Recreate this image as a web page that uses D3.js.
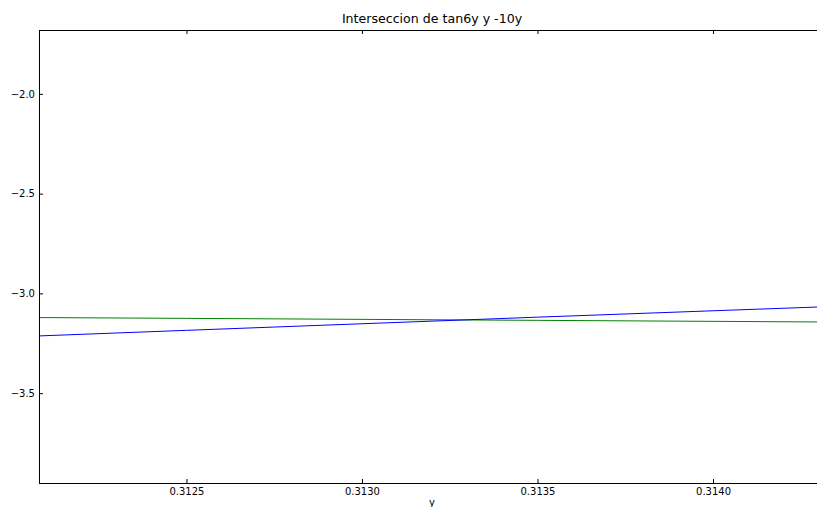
<!DOCTYPE html>
<html>
<head>
<meta charset="utf-8">
<script src="https://cdn.jsdelivr.net/npm/d3@7"></script>
<style>
  html, body { margin: 0; padding: 0; background: #fff; }
  svg { display: block; font-family: "DejaVu Sans", sans-serif; }
</style>
</head>
<body>
<svg id="chart" width="817" height="507"></svg>
<script>
// Data
const yValues   = [0.31208, 0.3125, 0.3130, 0.3135, 0.3140, 0.3143];
const tanSeries = [-3.213, -3.185, -3.152, -3.119, -3.087, -3.068];
const linSeries = [-3.121, -3.125, -3.130, -3.135, -3.140, -3.143];
const xTicks = [0.3125, 0.3130, 0.3135, 0.3140];
const yTicks = [-2.0, -2.5, -3.0, -3.5];
const title = "Interseccion de tan6y y -10y";
const xLabel = "y";

const svg = d3.select("#chart");
const mLeft = 39, mRight = 825, mTop = 30, mBottom = 483;

const x = d3.scaleLinear().domain([0.31208, 0.314319]).range([mLeft, mRight]);
const y = d3.scaleLinear().domain([-3.95, -1.68]).range([mBottom, mTop]);

svg.append("defs").append("clipPath").attr("id", "clip")
  .append("rect").attr("x", mLeft).attr("y", mTop)
  .attr("width", mRight - mLeft).attr("height", mBottom - mTop);

const line = d3.line().x((d, i) => x(yValues[i])).y(d => y(d));

svg.append("path").datum(linSeries)
  .attr("clip-path", "url(#clip)")
  .attr("fill", "none").attr("stroke", "#008000").attr("stroke-width", 1)
  .attr("d", line);
svg.append("path").datum(tanSeries)
  .attr("clip-path", "url(#clip)")
  .attr("fill", "none").attr("stroke", "#0000ff").attr("stroke-width", 1)
  .attr("d", line);

function styleAxis(g, showText) {
  g.select(".domain").remove();
  g.selectAll(".tick line").attr("stroke", "#000");
  g.selectAll(".tick text").attr("fill", "#000").style("font-size", "10px")
    .style("font-family", "'DejaVu Sans', sans-serif");
  if (!showText) g.selectAll(".tick text").remove();
}

svg.append("g").attr("transform", `translate(0,${mBottom})`)
  .call(d3.axisBottom(x).tickValues(xTicks).tickFormat(d3.format(".4f"))
        .tickSizeInner(-4).tickSizeOuter(0).tickPadding(4.5))
  .call(g => styleAxis(g, true));
svg.append("g").attr("transform", `translate(0,${mTop})`)
  .call(d3.axisTop(x).tickValues(xTicks).tickSizeInner(-4).tickSizeOuter(0))
  .call(g => styleAxis(g, false));
svg.append("g").attr("transform", `translate(${mLeft},0)`)
  .call(d3.axisLeft(y).tickValues(yTicks).tickFormat(d3.format(".1f"))
        .tickSizeInner(-4).tickSizeOuter(0).tickPadding(4))
  .call(g => styleAxis(g, true));
svg.append("g").attr("transform", `translate(${mRight},0)`)
  .call(d3.axisRight(y).tickValues(yTicks).tickSizeInner(-4).tickSizeOuter(0))
  .call(g => styleAxis(g, false));

svg.append("rect")
  .attr("x", mLeft + 0.5).attr("y", mTop + 0.5)
  .attr("width", mRight - mLeft).attr("height", mBottom - mTop)
  .attr("fill", "none").attr("stroke", "#000").attr("stroke-width", 1);

svg.append("text").attr("x", 432).attr("y", 23)
  .attr("text-anchor", "middle").style("font-size", "12.6px").attr("fill", "#000")
  .text(title);

svg.append("text").attr("x", 432).attr("y", 506)
  .attr("text-anchor", "middle").style("font-size", "10px").attr("fill", "#000")
  .text(xLabel);
</script>
</body>
</html>
